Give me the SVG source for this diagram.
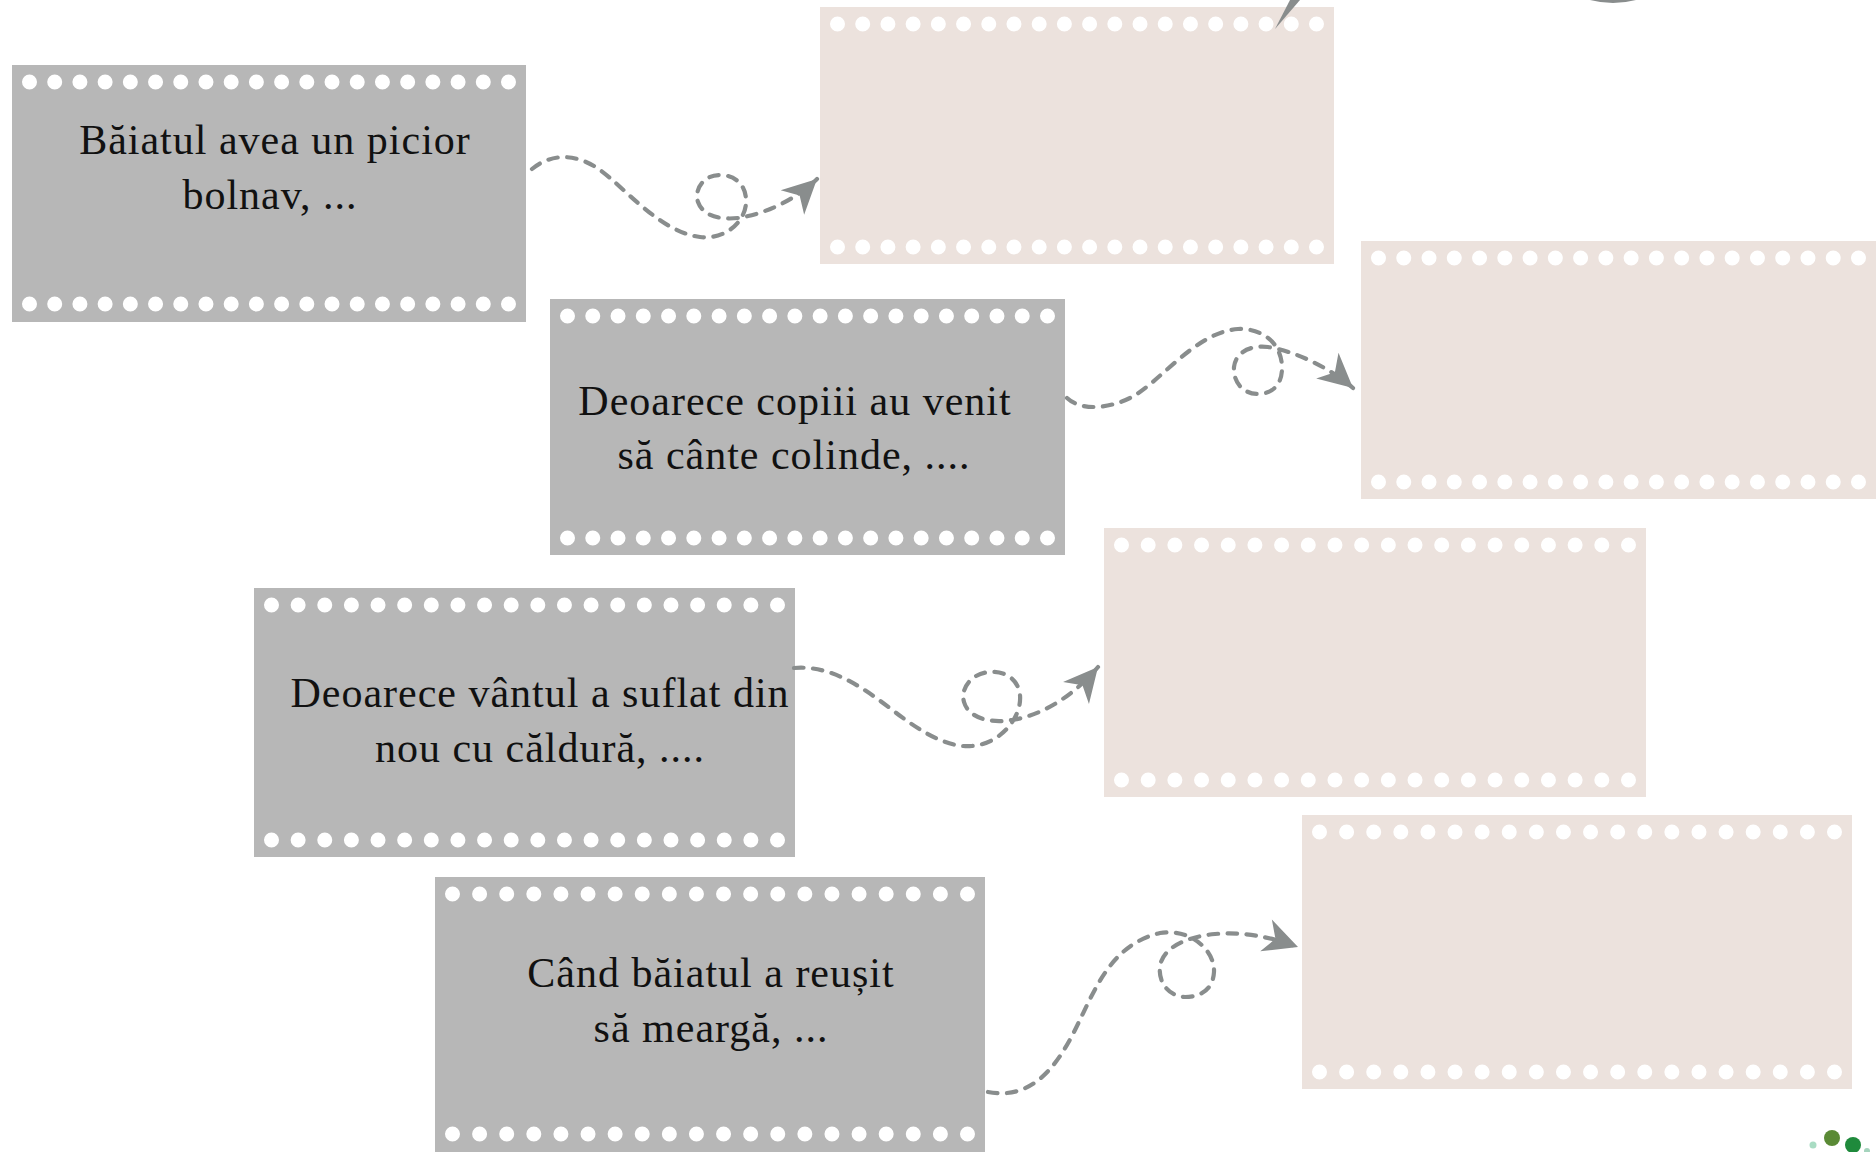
<svg xmlns="http://www.w3.org/2000/svg" width="1876" height="1152" viewBox="0 0 1876 1152">
<defs>
<style>
.gray{fill:#B7B7B7}
.beige{fill:#ECE2DD}
.holes{stroke:#FFFFFF;stroke-width:15;stroke-linecap:round;fill:none}
.lbl{font-family:"Liberation Serif","DejaVu Serif",serif;font-size:42px;letter-spacing:1px;fill:#111111;text-anchor:middle}
.conn{fill:none;stroke:#898D8D;stroke-width:4.2;stroke-dasharray:9.5 9.5;stroke-linecap:round}
.cfill{fill:#898D8D}
</style>
<marker id="arrow" viewBox="-36 -19 38 38" refX="0" refY="0" markerWidth="38" markerHeight="38" markerUnits="userSpaceOnUse" orient="auto">
<path d="M0,0 L-34,-17 L-24,0 L-34,17 Z" fill="#898D8D"/>
</marker>
</defs>
<rect width="1876" height="1152" fill="#FFFFFF"/>

<g id="node-g1">
<rect class="gray" x="12" y="65" width="514" height="257"/>
<line class="holes" x1="29.5" y1="82" x2="508.6" y2="82" stroke-dasharray="0 25.2105"/>
<line class="holes" x1="29.5" y1="304" x2="508.6" y2="304" stroke-dasharray="0 25.2105"/>
<text class="lbl"><tspan x="275" y="154">Băiatul avea un picior</tspan><tspan x="270" y="209">bolnav, ...</tspan></text>
</g>

<g id="node-g2">
<rect class="gray" x="550" y="299" width="515" height="256"/>
<line class="holes" x1="567.5" y1="316" x2="1047.6" y2="316" stroke-dasharray="0 25.263"/>
<line class="holes" x1="567.5" y1="538" x2="1047.6" y2="538" stroke-dasharray="0 25.263"/>
<text class="lbl"><tspan x="795" y="415">Deoarece copiii au venit</tspan><tspan x="794" y="469">să cânte colinde, ....</tspan></text>
</g>

<g id="node-g3">
<rect class="gray" x="254" y="588" width="541" height="269"/>
<line class="holes" x1="271.5" y1="605" x2="777.6" y2="605" stroke-dasharray="0 26.632"/>
<line class="holes" x1="271.5" y1="840" x2="777.6" y2="840" stroke-dasharray="0 26.632"/>
<text class="lbl"><tspan x="540" y="707">Deoarece vântul a suflat din</tspan><tspan x="540" y="762">nou cu căldură, ....</tspan></text>
</g>

<g id="node-g4">
<rect class="gray" x="435" y="877" width="550" height="275"/>
<line class="holes" x1="452.5" y1="894" x2="967.6" y2="894" stroke-dasharray="0 27.105"/>
<line class="holes" x1="452.5" y1="1134" x2="967.6" y2="1134" stroke-dasharray="0 27.105"/>
<text class="lbl"><tspan x="711" y="987">Când băiatul a reușit</tspan><tspan x="711" y="1042">să meargă, ...</tspan></text>
</g>

<g id="node-b1">
<rect class="beige" x="820" y="7" width="514" height="257"/>
<line class="holes" x1="837.5" y1="24" x2="1316.6" y2="24" stroke-dasharray="0 25.2105"/>
<line class="holes" x1="837.5" y1="247" x2="1316.6" y2="247" stroke-dasharray="0 25.2105"/>
</g>

<g id="node-b2">
<rect class="beige" x="1361" y="241" width="515" height="258"/>
<line class="holes" x1="1378.5" y1="258" x2="1858.6" y2="258" stroke-dasharray="0 25.263"/>
<line class="holes" x1="1378.5" y1="482" x2="1858.6" y2="482" stroke-dasharray="0 25.263"/>
</g>

<g id="node-b3">
<rect class="beige" x="1104" y="528" width="542" height="269"/>
<line class="holes" x1="1121.5" y1="545" x2="1628.6" y2="545" stroke-dasharray="0 26.684"/>
<line class="holes" x1="1121.5" y1="780" x2="1628.6" y2="780" stroke-dasharray="0 26.684"/>
</g>

<g id="node-b4">
<rect class="beige" x="1302" y="815" width="550" height="274"/>
<line class="holes" x1="1319.5" y1="832" x2="1834.6" y2="832" stroke-dasharray="0 27.105"/>
<line class="holes" x1="1319.5" y1="1072" x2="1834.6" y2="1072" stroke-dasharray="0 27.105"/>
</g>

<g id="connectors">
<path class="conn" marker-end="url(#arrow)" d="M 532 169 C 550 154, 575 152, 600 170 C 625 188, 660 232, 700 237 C 725 240, 745 222, 746 203 C 747 185, 735 175, 720 175 C 703 175, 694 190, 698 202 C 703 216, 720 220, 738 218 C 765 214, 795 200, 817 179"/>
<path class="conn" marker-end="url(#arrow)" d="M 1067 398 C 1080 410, 1105 410, 1130 398 C 1160 383, 1195 332, 1238 329 C 1262 328, 1282 343, 1282 368 C 1282 387, 1270 394, 1258 394 C 1243 394, 1233 382, 1234 367 C 1236 351, 1252 345, 1268 347 C 1295 351, 1330 368, 1353 388"/>
<path class="conn" marker-end="url(#arrow)" d="M 794 668 C 830 665, 860 685, 895 712 C 925 735, 950 748, 972 746 C 1000 744, 1022 718, 1020 695 C 1018 678, 1004 671, 990 672 C 972 673, 960 688, 964 702 C 968 716, 985 722, 1003 721 C 1035 719, 1070 700, 1098 667"/>
<path class="conn" marker-end="url(#arrow)" d="M 988 1092 C 1030 1100, 1055 1070, 1075 1030 C 1095 990, 1110 945, 1160 933 C 1190 928, 1215 950, 1214 972 C 1213 990, 1200 997, 1185 997 C 1168 996, 1158 982, 1160 966 C 1163 948, 1185 937, 1215 934 C 1240 932, 1265 935, 1298 947"/>
<path class="cfill" d="M 1275 29 L 1290 0 L 1300 0 Z"/>
<path class="cfill" d="M 1590 0 Q 1613 6 1636 0 Z"/>
</g>

<g id="logo">
<circle cx="1813" cy="1145" r="3.5" fill="#A9DCC3"/>
<circle cx="1832" cy="1138" r="8" fill="#5A8A35"/>
<circle cx="1853" cy="1145" r="8" fill="#1F8A3C"/>
<circle cx="1867" cy="1151" r="3" fill="#A5D4BD"/>
</g>
</svg>
